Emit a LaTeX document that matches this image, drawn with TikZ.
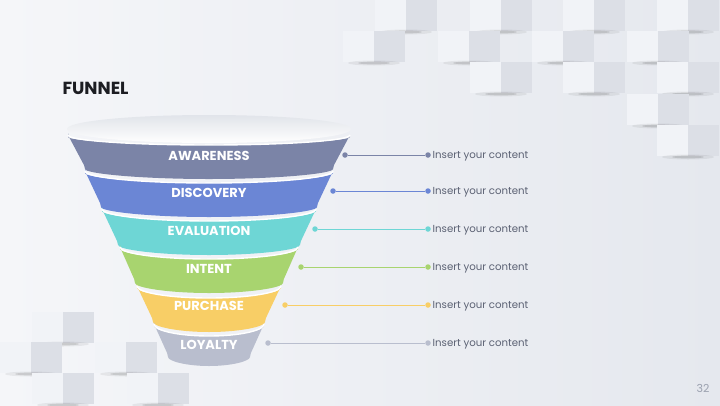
\documentclass[tikz,border=0pt]{standalone}
\usepackage{fontspec}
\setmainfont{Poppins}
\usetikzlibrary{positioning}

\definecolor{bgleft}{HTML}{F5F6F9}
\definecolor{bgright}{HTML}{E5E8EE}
\definecolor{cubelight}{HTML}{F1F3F7}
\definecolor{cubedark}{HTML}{DCDFE6}
\definecolor{topsurf}{HTML}{E1E4EA}
\definecolor{awareC}{HTML}{7B84A7}
\definecolor{discC}{HTML}{6B86D5}
\definecolor{evalC}{HTML}{6ED6D5}
\definecolor{intentC}{HTML}{A8D46F}
\definecolor{purchC}{HTML}{F8CE66}
\definecolor{loyalC}{HTML}{B9BECE}
\definecolor{txtgray}{HTML}{5B6173}
\definecolor{titleC}{HTML}{1C1D22}
\definecolor{pageC}{HTML}{9AA0AE}

\tikzset{
  bandlabel/.style={text=white, font=\bfseries\fontsize{13}{15}\selectfont},
  rim/.style={draw=white, line width=1.4pt},
  enddot/.style={circle, inner sep=0pt, minimum size=5.5pt},
  content/.style={anchor=west, yshift=-1.2pt, text=txtgray, inner sep=0pt, font=\fontsize{10.2}{12}\selectfont},
}

\begin{document}
\begin{tikzpicture}[x=1pt, y=-1pt]
  \useasboundingbox (0,0) rectangle (720,405);
  % background
  \shade[left color=bgleft, right color=bgright] (0,0) rectangle (720,405);
  \foreach \cx/\cy in {375/0,470/0,563/0,657/0,343/31,438/31,532/31,627/31,470/62,563/62,657/62,627/94,657/125,32/312,0/342,95/342,32/373,127/373}{
    \fill[cubelight] (\cx,\cy) rectangle ++(31,31);
    \fill[cubedark] (\cx+31,\cy) rectangle ++(31,31);
    \fill[black, opacity=0.06] (\cx+31,\cy+32) ellipse[x radius=26, y radius=2.5];
    \fill[black, opacity=0.12] (\cx+31,\cy+32) ellipse[x radius=16, y radius=1.4];
  }

  \node[anchor=west, text=titleC, font=\bfseries\fontsize{17.5}{20}\selectfont] (title) at (59,88) {FUNNEL};

  % funnel
  \shade[top color=topsurf, bottom color=white] (209,129) ellipse[x radius=142, y radius=14];

  \fill[awareC, rounded corners=2pt] (68,135) -- (85,167) arc[start angle=180, end angle=0, x radius=124, y radius=12] -- (350,135) arc[start angle=0, end angle=180, x radius=141, y radius=10] -- cycle;
  \draw[rim] (350,135) arc[start angle=0, end angle=180, x radius=141, y radius=10];
  \fill[discC, rounded corners=2pt] (85,171) -- (101,205) arc[start angle=180, end angle=0, x radius=108, y radius=12] -- (333,171) arc[start angle=0, end angle=180, x radius=124, y radius=12] -- cycle;
  \draw[rim] (333,171) arc[start angle=0, end angle=180, x radius=124, y radius=12];
  \fill[evalC, rounded corners=2pt] (102,209) -- (118,243) arc[start angle=180, end angle=0, x radius=91, y radius=12] -- (316,209) arc[start angle=0, end angle=180, x radius=107, y radius=12] -- cycle;
  \draw[rim] (316,209) arc[start angle=0, end angle=180, x radius=107, y radius=12];
  \fill[intentC, rounded corners=2pt] (120,247) -- (135,281) arc[start angle=180, end angle=0, x radius=74, y radius=12] -- (298,247) arc[start angle=0, end angle=180, x radius=89, y radius=12] -- cycle;
  \draw[rim] (298,247) arc[start angle=0, end angle=180, x radius=89, y radius=12];
  \fill[purchC, rounded corners=2pt] (137,286) -- (153,320) arc[start angle=180, end angle=0, x radius=56, y radius=12] -- (281,286) arc[start angle=0, end angle=180, x radius=72, y radius=12] -- cycle;
  \draw[rim] (281,286) arc[start angle=0, end angle=180, x radius=72, y radius=12];
  \fill[loyalC, rounded corners=2pt] (154,324) -- (168,355) arc[start angle=180, end angle=0, x radius=41, y radius=11] -- (264,324) arc[start angle=0, end angle=180, x radius=55, y radius=12] -- cycle;
  \draw[rim] (264,324) arc[start angle=0, end angle=180, x radius=55, y radius=12];

  \node[bandlabel] (aware) at (209,156) {AWARENESS};
  \node[bandlabel] (disc) at (209,193) {DISCOVERY};
  \node[bandlabel] (eval) at (209,231) {EVALUATION};
  \node[bandlabel] (intent) at (209,269) {INTENT};
  \node[bandlabel] (purch) at (209,306) {PURCHASE};
  \node[bandlabel] (loyal) at (209,345) {LOYALTY};

  % connectors
  \node[enddot, fill=awareC] (aware1) at (345,155) {};
  \node[enddot, fill=awareC] (aware2) at (428,155) {};
  \draw[awareC, line width=0.9pt] (aware1) -- (aware2);
  \node[content, right=1.5pt of aware2] (awaretext) {Insert your content};

  \node[enddot, fill=discC] (disc1) at (333,191) {};
  \node[enddot, fill=discC] (disc2) at (428,191) {};
  \draw[discC, line width=0.9pt] (disc1) -- (disc2);
  \node[content, right=1.5pt of disc2] (disctext) {Insert your content};

  \node[enddot, fill=evalC] (eval1) at (315,229) {};
  \node[enddot, fill=evalC] (eval2) at (428,229) {};
  \draw[evalC, line width=0.9pt] (eval1) -- (eval2);
  \node[content, right=1.5pt of eval2] (evaltext) {Insert your content};

  \node[enddot, fill=intentC] (intent1) at (301,267) {};
  \node[enddot, fill=intentC] (intent2) at (428,267) {};
  \draw[intentC, line width=0.9pt] (intent1) -- (intent2);
  \node[content, right=1.5pt of intent2] (intenttext) {Insert your content};

  \node[enddot, fill=purchC] (purch1) at (285,305) {};
  \node[enddot, fill=purchC] (purch2) at (428,305) {};
  \draw[purchC, line width=0.9pt] (purch1) -- (purch2);
  \node[content, right=1.5pt of purch2] (purchtext) {Insert your content};

  \node[enddot, fill=loyalC] (loyal1) at (268,343) {};
  \node[enddot, fill=loyalC] (loyal2) at (428,343) {};
  \draw[loyalC, line width=0.9pt] (loyal1) -- (loyal2);
  \node[content, right=1.5pt of loyal2] (loyaltext) {Insert your content};

  \node[text=pageC, font=\fontsize{11}{13}\selectfont] (page) at (703,388) {32};
\end{tikzpicture}
\end{document}
